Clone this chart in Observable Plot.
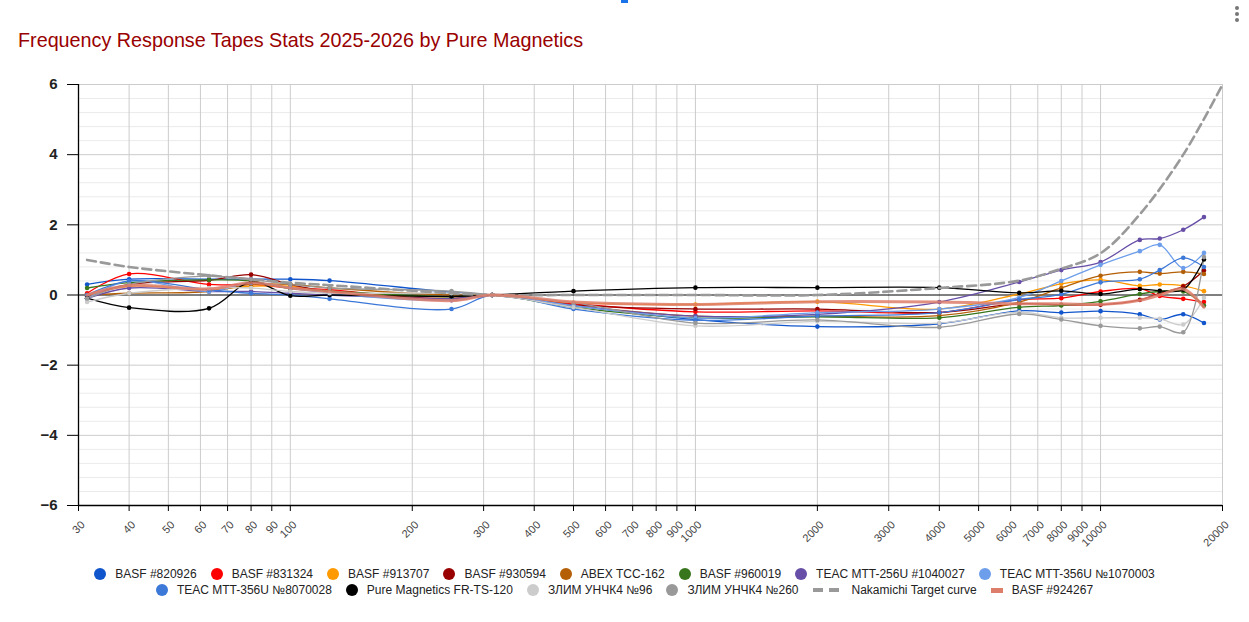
<!DOCTYPE html>
<html>
<head>
<meta charset="utf-8">
<script src="https://cdn.jsdelivr.net/npm/d3@7"></script>
<script src="https://cdn.jsdelivr.net/npm/@observablehq/plot@0.6"></script>
<style>
  html, body { margin: 0; padding: 0; background: #fff; }
  body { width: 1249px; height: 622px; position: relative; overflow: hidden; font-family: "Liberation Sans", Arial, sans-serif; }
  #title { position: absolute; left: 18px; top: 29px; font-size: 19.75px; color: #990000; white-space: nowrap; }
  #chart { position: absolute; left: 0; top: 0; }
  .legrow { position: absolute; left: 0; width: 1249px; display: flex; justify-content: center; align-items: center; font-size: 12px; color: #222; }
  .item { display: flex; align-items: center; margin: 0 7px; white-space: nowrap; }
  .sw { width: 12px; height: 12px; border-radius: 50%; margin-right: 9px; }
  .dash { display: flex; margin-right: 13px; }
  .dash span { width: 10px; height: 4px; background: #999; margin-right: 6px; }
  .dash span:last-child { margin-right: 0; }
  .bar { width: 12px; height: 5px; margin-right: 9px; background: #dd7e6b; }
  #menu { position: absolute; left: 1235px; top: 6px; }
  #menu div { width: 4px; height: 4px; border-radius: 50%; background: #777; margin-bottom: 2px; }
  #topmark { position: absolute; left: 621px; top: 0; width: 7px; height: 3px; background: #1a73e8; }
</style>
</head>
<body>
<div id="topmark"></div>
<div id="menu"><div></div><div></div><div></div></div>
<div id="chart"></div>
<div id="title">Frequency Response Tapes Stats 2025-2026 by Pure Magnetics</div>
<div class="legrow" id="leg1" style="top:567px"></div>
<div class="legrow" id="leg2" style="top:583px"></div>
<script>
// ---- data ----
const freqs = [31.5, 40, 63, 80, 100, 125, 250, 315, 500, 1000, 2000, 4000, 6300, 8000, 10000, 12500, 14000, 16000, 18000];

const basf820926   = [0.30, 0.45, 0.45, 0.45, 0.45, 0.41, 0.08, 0, -0.30, -0.70, -0.90, -0.82, -0.45, -0.50, -0.46, -0.55, -0.70, -0.55, -0.80];
const basf831324   = [0.05, 0.60, 0.30, 0.30, 0.20, 0.15, -0.15, 0, -0.25, -0.48, -0.45, -0.50, -0.13, -0.09, 0.10, 0.18, -0.03, -0.11, -0.20];
const basf913707   = [0.00, 0.25, 0.15, 0.25, 0.25, 0.10, -0.05, 0, -0.22, -0.27, -0.19, -0.40, 0.03, 0.32, 0.43, 0.26, 0.30, 0.26, 0.11];
const basf930594   = [-0.05, 0.30, 0.42, 0.58, 0.30, 0.10, -0.10, 0, -0.28, -0.40, -0.40, -0.50, -0.25, -0.28, -0.28, -0.14, 0.05, 0.25, 0.70];
const abexTcc162   = [0.00, 0.05, 0.10, 0.30, 0.30, 0.20, 0.00, 0, -0.30, -0.60, -0.60, -0.59, -0.20, 0.20, 0.55, 0.66, 0.61, 0.66, 0.60];
const basf960019   = [0.20, 0.35, 0.43, 0.40, 0.18, 0.11, -0.05, 0, -0.35, -0.65, -0.62, -0.65, -0.35, -0.30, -0.18, 0.03, 0.10, 0.10, -0.30];
const teac1040027  = [-0.10, 0.20, 0.10, 0.10, 0.05, 0.00, -0.10, 0, -0.30, -0.60, -0.55, -0.20, 0.37, 0.71, 0.94, 1.57, 1.61, 1.86, 2.22];
const teac1070003  = [-0.10, 0.40, 0.10, 0.35, 0.20, 0.05, -0.15, 0, -0.30, -0.66, -0.50, -0.40, -0.07, 0.40, 0.86, 1.25, 1.43, 0.77, 1.20];
const teac8070028  = [0.00, 0.40, 0.15, 0.05, 0.00, -0.11, -0.40, 0, -0.40, -0.72, -0.60, -0.50, -0.13, 0.02, 0.36, 0.45, 0.71, 1.06, 0.80];
const pureFrTs120  = [-0.09, -0.36, -0.38, 0.37, -0.02, 0.00, -0.04, 0, 0.11, 0.21, 0.21, 0.21, 0.06, 0.12, 0.03, 0.17, 0.12, 0.15, 1.01];
const zlim96       = [-0.20, 0.05, 0.20, 0.20, 0.10, 0.05, 0.05, 0, -0.35, -0.88, -0.75, -0.80, -0.49, -0.65, -0.65, -0.65, -0.68, -0.84, -0.08];
const zlim260      = [-0.10, 0.30, 0.54, 0.45, 0.30, 0.20, 0.11, 0, -0.22, -0.80, -0.71, -0.92, -0.54, -0.70, -0.88, -0.95, -0.90, -1.06, 1.08];
const basf924267   = [0.00, 0.27, 0.17, 0.35, 0.20, 0.10, -0.16, 0, -0.20, -0.27, -0.19, -0.20, -0.25, -0.25, -0.27, -0.15, 0.00, 0.17, -0.35];

const nakFreqs     = [31.5, 40, 63, 80, 100, 125, 250, 315, 500, 1000, 2000, 4000, 6300, 8000, 10000, 12500, 16000, 20000];
const nakamichi    = [1.00, 0.80, 0.56, 0.45, 0.35, 0.28, 0.05, 0, 0, 0, 0, 0.20, 0.41, 0.75, 1.19, 2.30, 4.00, 6.00];

const seriesNames = ["BASF #820926", "BASF #831324", "BASF #913707", "BASF #930594", "ABEX TCC-162", "BASF #960019",
  "TEAC MTT-256U #1040027", "TEAC MTT-356U №1070003", "TEAC MTT-356U №8070028", "Pure Magnetics FR-TS-120",
  "ЗЛИМ УНЧК4 №96", "ЗЛИМ УНЧК4 №260", "Nakamichi Target curve", "BASF #924267"];
const seriesColors = ["#1155cc", "#ff0000", "#ff9900", "#990000", "#b45f06", "#38761d",
  "#674ea7", "#6d9eeb", "#3c78d8", "#000000", "#cccccc", "#999999", "#999999", "#dd7e6b"];

const xTicks = [30, 40, 50, 60, 70, 80, 90, 100, 200, 300, 400, 500, 600, 700, 800, 900, 1000,
  2000, 3000, 4000, 5000, 6000, 7000, 8000, 9000, 10000, 20000];
const yTicks = [-6, -4, -2, 0, 2, 4, 6];

// ---- build tables ----
const dotted = [basf820926, basf831324, basf913707, basf930594, abexTcc162, basf960019,
  teac1040027, teac1070003, teac8070028, pureFrTs120, zlim96, zlim260];
const rowsFor = (name, fs, vs) => fs.map((f, i) => ({name, f, v: vs[i]}));
const dotRows = dotted.flatMap((vs, k) => rowsFor(seriesNames[k], freqs, vs));
const nakRows = rowsFor(seriesNames[12], nakFreqs, nakamichi);
const salmonRows = rowsFor(seriesNames[13], freqs, basf924267);

const minorY = d3.range(-6, 6.001, 0.4).map(d => +d.toFixed(1)).filter(d => Math.abs(d % 2) > 0.01);
const majorY = [-4, -2, 2, 4, 6];

const chart = Plot.plot({
  width: 1249,
  height: 560,
  marginLeft: 78,
  marginRight: 27,
  marginTop: 84,
  marginBottom: 55,
  style: {fontFamily: "'Liberation Sans', Arial, sans-serif", background: "transparent"},
  x: {type: "log", domain: [30, 20000]},
  y: {domain: [-6, 6]},
  color: {domain: seriesNames, range: seriesColors},
  marks: [
    Plot.ruleY(minorY, {stroke: "#ebebeb", strokeWidth: 1}),
    Plot.ruleY(majorY, {stroke: "#cccccc", strokeWidth: 1}),
    Plot.ruleX(xTicks, {stroke: "#cccccc", strokeWidth: 1}),
    Plot.ruleY([0], {stroke: "#000", strokeWidth: 1}),
    Plot.line(dotRows, {x: "f", y: "v", z: "name", stroke: "name", strokeWidth: 1.3, curve: "catmull-rom"}),
    Plot.dot(dotRows, {x: "f", y: "v", fill: "name", r: 2.3}),
    Plot.line(nakRows, {x: "f", y: "v", stroke: "name", strokeWidth: 2.6, strokeDasharray: "9,5", curve: "catmull-rom"}),
    Plot.line(salmonRows, {x: "f", y: "v", stroke: "name", strokeWidth: 3, strokeOpacity: 0.85, curve: "catmull-rom"}),
    Plot.ruleY([-6], {stroke: "#000", strokeWidth: 1.3}),
    Plot.ruleX([30], {stroke: "#000", strokeWidth: 1.3}),
    Plot.axisX({ticks: xTicks, tickFormat: () => "", tickSize: 6, label: null}),
    Plot.text(xTicks, {x: d => d, frameAnchor: "bottom", text: d => String(d), rotate: -45,
      textAnchor: "end", lineAnchor: "bottom", dx: 7, dy: 20, fontSize: 11, fill: "#444"}),
    Plot.axisY({ticks: yTicks, tickSize: 11, tickPadding: 10, fontSize: 15, fontWeight: "bold",
      fill: "#222", label: null})
  ]
});
document.getElementById("chart").appendChild(chart);

// ---- legend ----
function addItem(row, k) {
  const it = document.createElement("div");
  it.className = "item";
  let sw;
  if (k === 12) {
    sw = document.createElement("div");
    sw.className = "dash";
    sw.innerHTML = "<span></span><span></span>";
  } else if (k === 13) {
    sw = document.createElement("div");
    sw.className = "bar";
    sw.style.background = seriesColors[k];
  } else {
    sw = document.createElement("div");
    sw.className = "sw";
    sw.style.background = seriesColors[k];
  }
  it.appendChild(sw);
  const t = document.createElement("span");
  t.textContent = seriesNames[k];
  it.appendChild(t);
  row.appendChild(it);
}
const l1 = document.getElementById("leg1"), l2 = document.getElementById("leg2");
for (let k = 0; k < 8; k++) addItem(l1, k);
for (let k = 8; k < 14; k++) addItem(l2, k);
</script>
</body>
</html>
